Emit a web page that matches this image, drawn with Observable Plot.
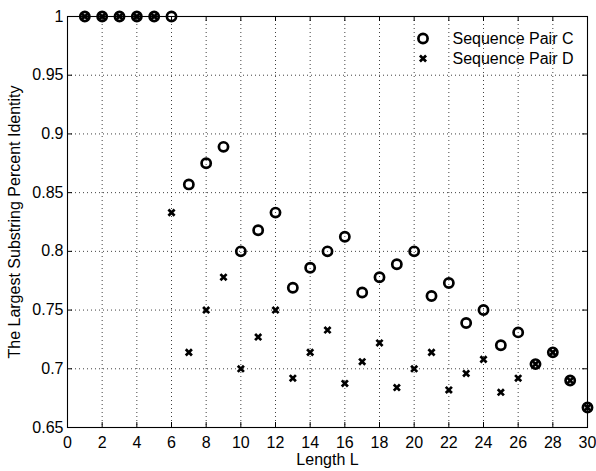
<!DOCTYPE html>
<html>
<head>
<meta charset="utf-8">
<script src="https://cdn.jsdelivr.net/npm/d3@7"></script>
<script src="https://cdn.jsdelivr.net/npm/@observablehq/plot@0.6"></script>
<style>
  html, body { margin: 0; padding: 0; background: #fff; }
  #chart { width: 596px; height: 471px; }
</style>
</head>
<body>
<div id="chart"></div>
<script>
// ---- data ----
const lengths = d3.range(1, 31);
const pairC = [1, 1, 1, 1, 1, 1, 0.857, 0.875, 0.889, 0.8, 0.818, 0.833, 0.769, 0.786, 0.8,
  0.8125, 0.765, 0.778, 0.789, 0.8, 0.762, 0.773, 0.739, 0.75, 0.72, 0.731, 0.704, 0.714, 0.69, 0.667];
const pairD = [1, 1, 1, 1, 1, 0.833, 0.714, 0.75, 0.778, 0.7, 0.727, 0.75, 0.692, 0.714, 0.733,
  0.6875, 0.706, 0.722, 0.684, 0.7, 0.714, 0.682, 0.696, 0.708, 0.68, 0.692, 0.704, 0.714, 0.69, 0.667];
const seriesNames = ["Sequence Pair C", "Sequence Pair D"];
const xTicks = [0, 2, 4, 6, 8, 10, 12, 14, 16, 18, 20, 22, 24, 26, 28, 30];
const yTicks = [0.65, 0.7, 0.75, 0.8, 0.85, 0.9, 0.95, 1];
const xLabel = "Length L";
const yLabel = "The Largest Substring Percent Identity";

const dataC = lengths.map((L, i) => ({L, v: pairC[i]}));
const dataD = lengths.map((L, i) => ({L, v: pairD[i]}));

const W = 596, H = 471;
const mL = 67, mR = 9, mT = 16, mB = 44;
const innerH = H - mT - mB;
const innerW = W - mL - mR;
const font = "'Liberation Sans', Arial, Helvetica, sans-serif";
const fs = 16;

const circleStyle = {r: 4.6, stroke: "#000", strokeWidth: 2.7, fill: "none"};
const timesStyle = {symbol: "times", r: 2.9, stroke: "#000", strokeWidth: 2.7};

const chart = Plot.plot({
  width: W, height: H,
  marginLeft: mL, marginRight: mR, marginTop: mT, marginBottom: mB,
  style: {fontFamily: font, fontSize: fs + "px", background: "#fff", color: "#000"},
  x: {domain: [0, 30], ticks: xTicks},
  y: {domain: [0.65, 1], ticks: yTicks},
  marks: [
    // dotted grid
    Plot.ruleX(xTicks.slice(1, -1), {x: d => d, stroke: "#000", strokeOpacity: 0.75, strokeDasharray: "1 3"}),
    Plot.ruleY(yTicks.slice(1, -1), {y: d => d, stroke: "#000", strokeOpacity: 0.75, strokeDasharray: "1 3"}),
    // inward ticks on all four sides
    Plot.tickX(xTicks, {x: d => d, insetTop: innerH - 5, stroke: "#000"}),
    Plot.tickX(xTicks, {x: d => d, insetBottom: innerH - 5, stroke: "#000"}),
    Plot.tickY(yTicks, {y: d => d, insetRight: innerW - 5, stroke: "#000"}),
    Plot.tickY(yTicks, {y: d => d, insetLeft: innerW - 5, stroke: "#000"}),
    // tick labels
    Plot.axisX({ticks: xTicks, tickSize: 0, tickPadding: 9, label: null, tickFormat: d3.format("~g"), fontSize: fs}),
    Plot.axisY({ticks: yTicks, tickSize: 0, tickPadding: 4, label: null, tickFormat: d3.format("~g"), fontSize: fs}),
    Plot.frame({stroke: "#000", strokeWidth: 1.1}),
    // axis titles
    Plot.text([xLabel], {text: d => d, frameAnchor: "bottom", lineAnchor: "middle", textAnchor: "middle", dy: 32, fontSize: fs}),
    Plot.text([yLabel], {text: d => d, frameAnchor: "left", lineAnchor: "middle", textAnchor: "middle", rotate: -90, dx: -53, fontSize: fs}),
    // data
    Plot.dot(dataC, {x: "L", y: "v", ...circleStyle}),
    Plot.dot(dataD, {x: "L", y: "v", ...timesStyle}),
    // legend
    Plot.dot([seriesNames[0]], {x: null, y: null, frameAnchor: "top-right", dx: -164.5, dy: 22, ...circleStyle}),
    Plot.dot([seriesNames[1]], {x: null, y: null, frameAnchor: "top-right", dx: -164.5, dy: 42, ...timesStyle}),
    Plot.text([seriesNames[0]], {text: d => d, frameAnchor: "top-right", lineAnchor: "middle", textAnchor: "start", dx: -135, dy: 22, fontSize: fs}),
    Plot.text([seriesNames[1]], {text: d => d, frameAnchor: "top-right", lineAnchor: "middle", textAnchor: "start", dx: -135, dy: 42, fontSize: fs})
  ]
});
document.getElementById("chart").appendChild(chart);
</script>
</body>
</html>
